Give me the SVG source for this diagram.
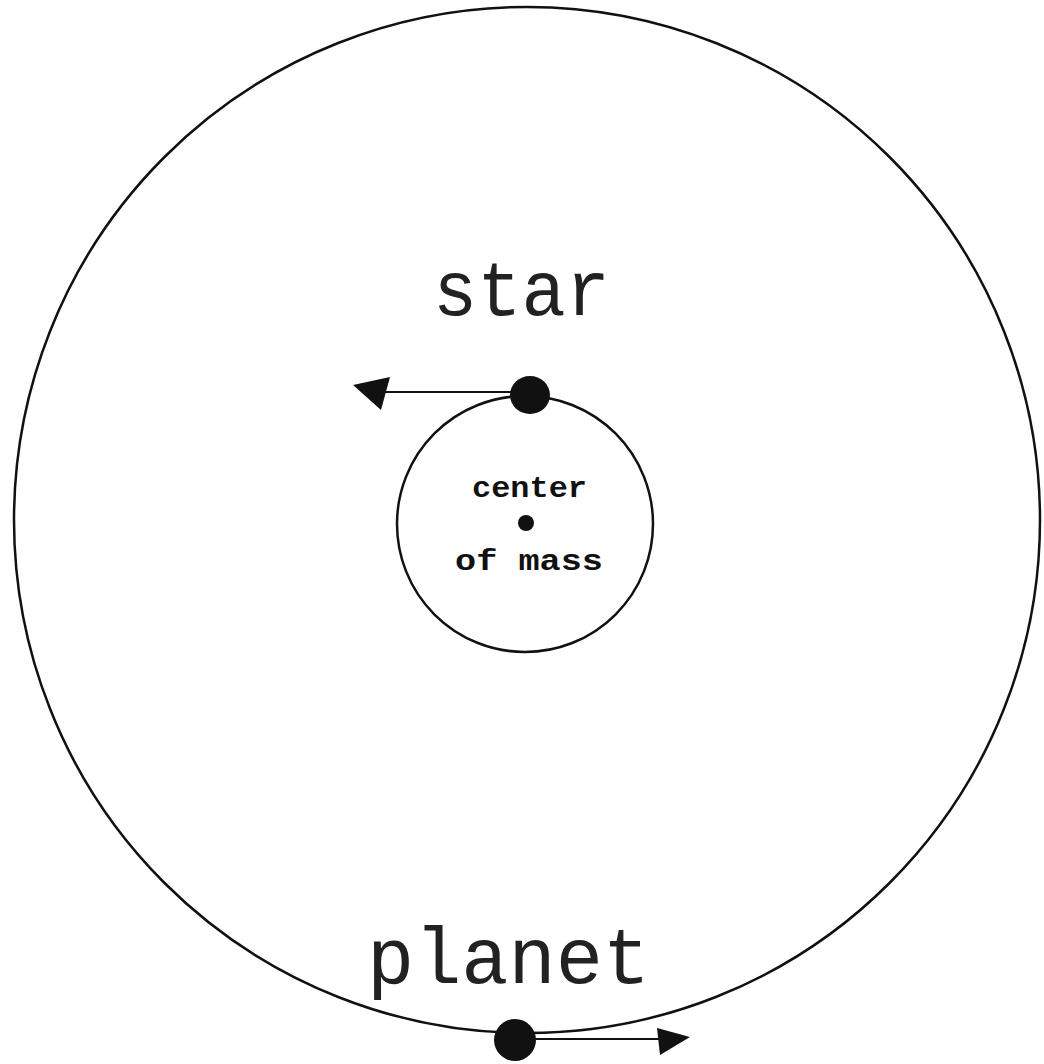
<svg xmlns="http://www.w3.org/2000/svg" width="1044" height="1064" viewBox="0 0 1044 1064">
<style>
.orbit{fill:none;stroke:#111;stroke-width:2.5}
.body{fill:#111}
.vec{stroke:#111;stroke-width:2.2;fill:none}
.head{fill:#111}
.big{font-family:"Liberation Mono","DejaVu Sans Mono",monospace;fill:#222}
.small{font-family:"Liberation Mono","DejaVu Sans Mono",monospace;font-weight:bold;fill:#111}
</style>
<rect width="1044" height="1064" fill="#fff"/>
<g id="planet-orbit"><circle class="orbit" cx="527" cy="520" r="513"/></g>
<g id="star-orbit"><circle class="orbit" cx="525" cy="524" r="128"/></g>
<g id="connectors">
<line class="vec" x1="520" y1="392" x2="380" y2="392"/>
<polygon class="head" points="353,385 390,377 381,410"/>
<line class="vec" x1="520" y1="1039" x2="665" y2="1039"/>
<polygon class="head" points="690,1037 657,1028 660,1055"/>
</g>
<g id="star">
<ellipse class="body" cx="530" cy="395" rx="20" ry="19"/>
<text class="big" x="433" y="315" font-size="78" textLength="177" lengthAdjust="spacingAndGlyphs">star</text>
</g>
<g id="center-of-mass">
<circle class="body" cx="526" cy="523" r="8"/>
<text class="small" x="472" y="497" font-size="30" textLength="115" lengthAdjust="spacingAndGlyphs">center</text>
<text class="small" x="455" y="570" font-size="30" textLength="148" lengthAdjust="spacingAndGlyphs">of mass</text>
</g>
<g id="planet">
<circle class="body" cx="515" cy="1040" r="21"/>
<text class="big" x="367" y="983" font-size="80" textLength="283" lengthAdjust="spacingAndGlyphs">planet</text>
</g>
</svg>
